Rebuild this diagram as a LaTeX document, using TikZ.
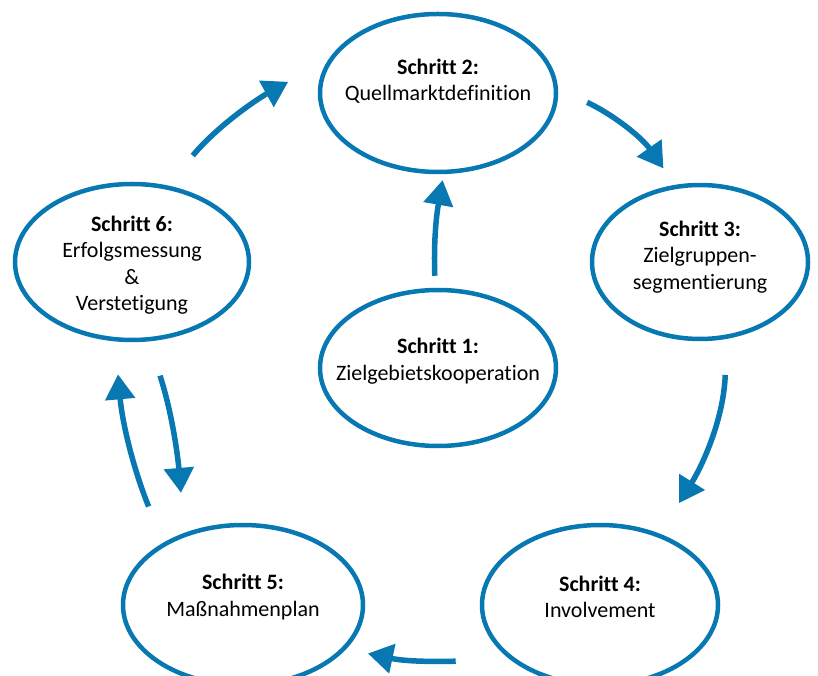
\documentclass[tikz,border=0pt]{standalone}
\usepackage{fontspec}
\setmainfont{Carlito}[Ligatures=NoCommon]
\usetikzlibrary{arrows.meta,shapes.geometric}
\definecolor{stepblue}{RGB}{8,120,178}
\tikzset{
  stepbox/.style={ellipse, draw=stepblue, line width=4.5pt, inner sep=0pt},
  steptext/.style={align=center, font=\fontsize{22}{26.5}\selectfont},
  flow/.style={stepblue, line width=5.5pt, -{Triangle[width=29pt,length=25pt]}},
}
\begin{document}
\begin{tikzpicture}[x=1pt, y=1pt]
\useasboundingbox (0,0) rectangle (818,675);
% the six steps
\node[stepbox, minimum width=236pt, minimum height=156pt] (n1) at (438,307) {};
\node[stepbox, minimum width=236pt, minimum height=158pt] (n2) at (438,582) {};
\node[stepbox, minimum width=216pt, minimum height=154pt] (n3) at (700,413) {};
\node[stepbox, minimum width=236pt, minimum height=160pt] (n4) at (600,70) {};
\node[stepbox, minimum width=240pt, minimum height=160pt] (n5) at (243,70) {};
\node[stepbox, minimum width=234pt, minimum height=156pt] (n6) at (132,413) {};
\node[steptext] (t1) at ([yshift=7pt]n1.center) {\textbf{Schritt 1:}\\Zielgebietskooperation};
\node[steptext] (t2) at ([yshift=12pt]n2.center) {\textbf{Schritt 2:}\\Quellmarktdefinition};
\node[steptext] (t3) at ([yshift=5pt]n3.center) {\textbf{Schritt 3:}\\Zielgruppen-\\segmentierung};
\node[steptext] (t4) at ([yshift=8pt]n4.center) {\textbf{Schritt 4:}\\Involvement};
\node[steptext] (t5) at ([yshift=8pt]n5.center) {\textbf{Schritt 5:}\\Maßnahmenplan};
\node[steptext] (t6) at ([yshift=-3pt]n6.center) {\textbf{Schritt 6:}\\Erfolgsmessung\\\&\\Verstetigung};
% arrows between the steps
\draw[flow, shorten <=12pt, shorten >=6pt] (n1.92) to[out=92, in=-100] (n2.-86);
\draw[flow, shorten <=32pt, shorten >=20pt] (n2.2) to[out=-25, in=125] (n3.108);
\draw[flow, shorten <=36pt, shorten >=36pt] (n3.-71) to[out=-92, in=58] (n4.50);
\draw[flow, shorten <=54pt, shorten >=22pt] (n4.211) to[out=182, in=-12] (n5.-23);
\draw[flow, shorten <=39pt, shorten >=33pt] (n5.142) to[out=112, in=-85] (n6.-102);
\draw[flow, shorten <=36pt, shorten >=40pt] (n6.-78) to[out=-72, in=95] (n5.129);
\draw[flow, shorten <=39pt, shorten >=46pt] (n6.65) to[out=50, in=-151] (n2.163);
\end{tikzpicture}
\end{document}
